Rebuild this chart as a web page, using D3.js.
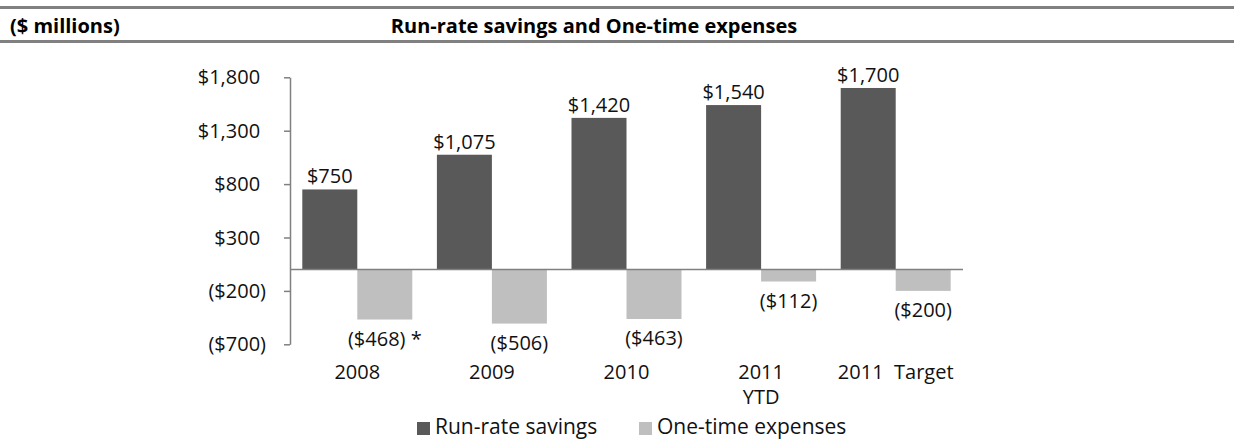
<!DOCTYPE html>
<html>
<head>
<meta charset="utf-8">
<script src="https://cdn.jsdelivr.net/npm/d3@7"></script>
<style>
  body { margin: 0; background: #fff; }
  svg { display: block; font-family: "Open Sans", sans-serif; }
</style>
</head>
<body>
<svg id="chart" width="1234" height="440"></svg>
<script>
'use strict'

const categories = ['2008', '2009', '2010', '2011\nYTD', '2011  Target']
const savings = [750, 1075, 1420, 1540, 1700]
const expenses = [-468, -506, -463, -112, -200]
const expenseNotes = [' *', '', '', '', '']
const series = ['Run-rate savings', 'One-time expenses']
const colors = ['#595959', '#bfbfbf']
const yTicks = [-700, -200, 300, 800, 1300, 1800]

const svg = d3.select('#chart')

// header band
svg.append('rect').attr('x', 0).attr('y', 6).attr('width', 1234).attr('height', 3).attr('fill', '#808080')
svg.append('rect').attr('x', 0).attr('y', 40).attr('width', 1234).attr('height', 3).attr('fill', '#808080')
svg.append('text').attr('x', 10).attr('y', 33)
    .attr('font-size', 20).attr('font-weight', 700).text('($ millions)')
svg.append('text').attr('x', 594).attr('y', 33).attr('text-anchor', 'middle')
    .attr('font-size', 20).attr('font-weight', 700).text('Run-rate savings and One-time expenses')

const x = d3.scaleBand().domain(categories).range([290, 963])
const x1 = d3.scaleBand().domain(series).range([12.3, x.bandwidth() - 12.3])
const y = d3.scaleLinear().domain([-700, 1800]).range([344.3, 77.3])

const money = (v) => v < 0 ? `($${d3.format(',')(-v)})` : `$${d3.format(',')(v)}`

// y axis
const yAxis = svg.append('g').attr('transform', 'translate(290,0)')
    .call(d3.axisLeft(y).tickValues(yTicks).tickSize(6).tickSizeOuter(0).tickFormat(() => ''))
yAxis.selectAll('path, line').attr('stroke', '#808080').attr('stroke-width', 1.5)
yAxis.selectAll('.tick text').remove()
yTicks.forEach((v) => {
    const t = svg.append('text').attr('x', 266).attr('y', y(v) + 7)
        .attr('text-anchor', 'end').attr('font-size', 20).attr('fill', '#111')
    t.append('tspan').text(money(v))
    if (v >= 0) t.append('tspan').attr('fill-opacity', 0).text(')')
})

const groups = svg.append('g').selectAll('g')
    .data(categories)
    .join('g')
    .attr('transform', (d) => `translate(${x(d)},0)`)

// savings bars
groups.append('rect')
    .attr('x', x1(series[0]))
    .attr('width', x1.bandwidth())
    .attr('y', (d, i) => y(savings[i]))
    .attr('height', (d, i) => y(0) - y(savings[i]))
    .attr('fill', colors[0])

// expense bars
groups.append('rect')
    .attr('x', x1(series[1]))
    .attr('width', x1.bandwidth())
    .attr('y', y(0))
    .attr('height', (d, i) => y(expenses[i]) - y(0))
    .attr('fill', colors[1])

// value labels
groups.append('text')
    .attr('x', x1(series[0]) + x1.bandwidth() / 2)
    .attr('y', (d, i) => y(savings[i]) - 6)
    .attr('text-anchor', 'middle').attr('font-size', 20).attr('fill', '#111')
    .text((d, i) => money(savings[i]))

groups.append('text')
    .attr('x', x1(series[1]) + x1.bandwidth() / 2)
    .attr('y', (d, i) => y(expenses[i]) + 26)
    .attr('text-anchor', 'middle').attr('font-size', 20).attr('fill', '#111')
    .text((d, i) => money(expenses[i]) + expenseNotes[i])

// zero line
svg.append('line').attr('x1', 290).attr('x2', 963).attr('y1', y(0)).attr('y2', y(0))
    .attr('stroke', '#808080').attr('stroke-width', 1.5)

// category labels
groups.append('text')
    .attr('x', x.bandwidth() / 2)
    .attr('y', 379)
    .attr('text-anchor', 'middle').attr('font-size', 20).attr('fill', '#111')
    .style('white-space', 'pre')
    .each(function (d) {
        d.split('\n').forEach((line, k) => {
            d3.select(this).append('tspan')
                .attr('x', x.bandwidth() / 2).attr('dy', k ? 25 : 0).text(line)
        })
    })

// legend
const legendX = [417, 639]
series.forEach((s, i) => {
    svg.append('rect').attr('x', legendX[i]).attr('y', 422).attr('width', 13).attr('height', 13).attr('fill', colors[i])
    svg.append('text').attr('x', legendX[i] + 18).attr('y', 434)
        .attr('font-size', 21).attr('fill', '#111').text(s)
})
</script>
</body>
</html>
